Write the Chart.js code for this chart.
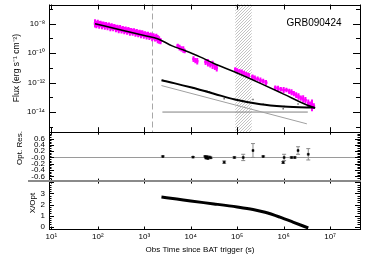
<!DOCTYPE html>
<html><head><meta charset="utf-8">
<script src="https://cdn.jsdelivr.net/npm/chart.js@4.4.1/dist/chart.umd.min.js"></script>
<style>html,body{margin:0;padding:0;background:#fff;}canvas{display:block;}</style>
</head><body>
<canvas id="c" width="374" height="263"></canvas>
<script>
// ---------------- data (log10 values) ----------------
const xrtLogTime = [1.94,1.97,2.00,2.03,2.06,2.09,2.12,2.15,2.18,2.21,2.24,2.27,2.30,2.33,2.36,2.39,2.42,2.45,2.48,2.51,2.54,2.57,2.60,2.63,2.66,2.69,2.72,2.75,2.78,2.81,2.84,2.87,2.90,2.93,2.96,2.99,3.02,3.05,3.08,3.11,3.14,3.17,3.20,3.23,3.26,3.29,3.32,3.35,
  3.72,3.76,3.80,3.84,3.87,4.06,4.10,4.14,4.32,4.37,4.42,4.47,4.52,4.56,4.96,5.00,5.05,5.10,5.15,5.20,5.25,5.33,5.38,5.44,5.50,5.56,5.62,5.82,5.88,5.94,6.00,6.06,6.12,6.17,6.22,6.27,6.32,6.37,6.42,6.47,6.53,6.57,6.61,6.65];
const xrtLogFlux = [-7.98,-8.05,-7.97,-8.08,-8.02,-8.12,-8.06,-8.15,-8.10,-8.20,-8.12,-8.25,-8.19,-8.27,-8.22,-8.33,-8.28,-8.38,-8.31,-8.42,-8.36,-8.47,-8.40,-8.50,-8.44,-8.55,-8.50,-8.58,-8.52,-8.64,-8.57,-8.68,-8.62,-8.72,-8.66,-8.77,-8.72,-8.82,-8.76,-8.86,-8.81,-8.92,-8.87,-8.97,-8.93,-9.05,-9.10,-9.18,
  -9.50,-9.62,-9.70,-9.75,-9.85,-10.40,-10.50,-10.55,-10.60,-10.65,-10.75,-10.80,-10.95,-11.00,-11.10,-11.20,-11.22,-11.30,-11.35,-11.45,-11.50,-11.60,-11.70,-11.75,-11.85,-11.90,-12.00,-12.35,-12.40,-12.45,-12.50,-12.50,-12.60,-12.65,-12.75,-12.85,-12.95,-13.05,-13.10,-13.20,-13.40,-13.50,-13.55,-13.60];
const xrtLogFluxErr = [0.28,0.25,0.24,0.26,0.22,0.26,0.21,0.25,0.22,0.24,0.20,0.25,0.22,0.24,0.21,0.25,0.22,0.26,0.22,0.24,0.21,0.25,0.22,0.24,0.22,0.26,0.22,0.24,0.21,0.25,0.22,0.24,0.22,0.26,0.22,0.24,0.21,0.25,0.22,0.24,0.22,0.26,0.22,0.24,0.26,0.28,0.25,0.22,
  0.15,0.20,0.18,0.22,0.16,0.20,0.18,0.22,0.20,0.25,0.22,0.28,0.20,0.25,0.15,0.18,0.15,0.20,0.16,0.18,0.15,0.15,0.18,0.16,0.20,0.16,0.18,0.15,0.18,0.16,0.20,0.16,0.18,0.20,0.18,0.20,0.22,0.18,0.25,0.22,0.25,0.22,0.40,0.20];
const xrtLogTimeErr = [0.015,0.015,0.015,0.015,0.015,0.015,0.015,0.015,0.015,0.015,0.015,0.015,0.015,0.015,0.015,0.015,0.015,0.015,0.015,0.015,0.015,0.015,0.015,0.015,0.015,0.015,0.015,0.015,0.015,0.015,0.015,0.015,0.015,0.015,0.015,0.015,0.015,0.015,0.015,0.015,0.015,0.015,0.015,0.015,0.015,0.015,0.015,0.015,
  0.02,0.02,0.02,0.02,0.02,0.02,0.02,0.02,0.025,0.025,0.025,0.025,0.025,0.025,0.025,0.025,0.025,0.025,0.025,0.025,0.025,0.03,0.03,0.03,0.03,0.03,0.03,0.03,0.03,0.03,0.03,0.03,0.03,0.03,0.025,0.025,0.025,0.025,0.025,0.025,0.02,0.02,0.02,0.02];

const xrtFitLogTime = [1.94,2.5,3.0,3.3,3.6,3.87,4.2,4.5,4.95,5.5,6.0,6.5,6.68];
const xrtFitLogFlux = [-8.00,-8.42,-8.80,-9.03,-9.50,-9.82,-10.25,-10.70,-11.28,-12.05,-12.78,-13.52,-13.72];

const optFitLogTime = [3.37,3.66,4.0,4.5,4.95,5.5,6.0,6.5,6.67];
const optFitLogFlux = [-11.84,-12.05,-12.32,-12.75,-13.15,-13.47,-13.62,-13.69,-13.70];

const optPowLogTime = [3.37,6.50];
const optPowLogFlux = [-12.20,-14.80];
const hostLogTime = [3.39,6.52];
const hostLogFlux = [-14.00,-14.00];

const optLogTime = [3.40,4.05,4.31,4.33,4.35,4.37,4.40,4.43,4.72,4.94,5.13,5.34,5.56,5.99,6.01,6.17,6.24,6.31,6.53];
const optLogFlux = [-11.83,-12.35,-12.56,-12.60,-12.58,-12.62,-12.62,-12.66,-13.10,-13.14,-13.27,-13.15,-13.47,-13.78,-13.62,-13.65,-13.67,-13.45,-13.59];
const resValue = [0.03,0.01,0.03,-0.02,0.02,-0.03,0.01,-0.01,-0.15,0.00,0.00,0.22,0.03,-0.16,0.00,0.00,0.00,0.22,0.10];
const resErr   = [0.02,0.02,0.02,0.02,0.03,0.02,0.03,0.02,0.04,0.02,0.10,0.22,0.02,0.03,0.10,0.02,0.02,0.12,0.18];

const ratioLogTime = [3.37,3.7,4.0,4.5,5.0,5.34,5.6,5.92,6.2,6.53];
const ratioValue   = [2.68,2.50,2.32,2.06,1.78,1.55,1.30,0.86,0.42,-0.12];

const xTickValues = [1e1,1e2,1e3,1e4,1e5,1e6,1e7];
const xTickLabels = ['10¹','10²','10³','10⁴','10⁵','10⁶','10⁷'];
const fluxTickValues = [1e-14,1e-12,1e-10,1e-8];
const fluxTickLabels = ['10⁻¹⁴','10⁻¹²','10⁻¹⁰','10⁻⁸'];
const fluxDecades = [1e-15,1e-14,1e-13,1e-12,1e-11,1e-10,1e-9,1e-8,1e-7];
const resTickValues = [-0.6,-0.4,-0.2,0,0.2,0.4,0.6];
const resTickLabels = ['-0.6','-0.4','-0.2','-0.0','0.2','0.4','0.6'];
const ratioTickValues = [0,1,2,3];
const ratioTickLabels = ['0','1','2','3'];

const breakTime = 1500;          // dashed vertical line
const gapRange = [9.1e4, 2.05e5]; // hatched band
const grbName = 'GRB090424';
const xTitle = 'Obs Time since BAT trigger (s)';
const fluxTitle = 'Flux (erg s⁻¹ cm⁻²)';
const resTitle = 'Opt. Res.';
const ratioTitle = 'X/Opt';

// ---------------- build datasets ----------------
const P = v => Math.pow(10, v);
const xrtPoints = xrtLogTime.map((t,i) => ({
  x: P(t), y: P(xrtLogFlux[i]),
  yLo: P(xrtLogFlux[i]-xrtLogFluxErr[i]), yHi: P(xrtLogFlux[i]+xrtLogFluxErr[i]),
  xLo: P(t-xrtLogTimeErr[i]), xHi: P(t+xrtLogTimeErr[i])
}));
const curve = (ts, fs) => ts.map((t,i) => ({x: P(t), y: P(fs[i])}));
const optPoints = optLogTime.map((t,i) => ({x: P(t), y: P(optLogFlux[i])}));
const resPoints = optLogTime.map((t,i) => ({x: P(t), y: resValue[i], yLo: resValue[i]-resErr[i], yHi: resValue[i]+resErr[i], cap: true}));
const ratioPoints = ratioLogTime.map((t,i) => ({x: P(t), y: ratioValue[i]}));

const FONT = "'Liberation Sans', Arial, sans-serif";
Chart.defaults.font.family = FONT;
Chart.defaults.font.size = 8;
Chart.defaults.color = '#000';

const errorBarPlugin = {
  id: 'errbars',
  beforeDatasetsDraw(chart) {
    const ctx = chart.ctx;
    chart.data.datasets.forEach(ds => {
      if (!ds.errorBars) return;
      const xs = chart.scales.x, ys = chart.scales[ds.yAxisID];
      ctx.save();
      ctx.strokeStyle = ds.errorBars.color;
      ctx.lineWidth = ds.errorBars.width;
      ds.data.forEach(p => {
        const px = xs.getPixelForValue(p.x), py = ys.getPixelForValue(p.y);
        const y1 = ys.getPixelForValue(p.yLo), y2 = ys.getPixelForValue(p.yHi);
        ctx.beginPath();
        ctx.moveTo(px, y1); ctx.lineTo(px, y2);
        if (p.xLo !== undefined) {
          ctx.moveTo(xs.getPixelForValue(p.xLo), py); ctx.lineTo(xs.getPixelForValue(p.xHi), py);
        }
        if (p.cap) {
          ctx.moveTo(px-2, y1); ctx.lineTo(px+2, y1);
          ctx.moveTo(px-2, y2); ctx.lineTo(px+2, y2);
        }
        ctx.stroke();
      });
      ctx.restore();
    });
  }
};

function hLine(ctx, x1, x2, y) { ctx.moveTo(x1, Math.round(y)+0.5); ctx.lineTo(x2, Math.round(y)+0.5); }
function vLine(ctx, x, y1, y2) { ctx.moveTo(Math.round(x)+0.5, y1); ctx.lineTo(Math.round(x)+0.5, y2); }

const decoPlugin = {
  id: 'deco',
  beforeDatasetsDraw(chart) {
    const ctx = chart.ctx, ca = chart.chartArea, sx = chart.scales.x;
    const sF = chart.scales.yFlux, sR = chart.scales.yRes;
    ctx.save();
    // hatched band
    const pc = document.createElement('canvas'); pc.width = 3; pc.height = 3;
    const pg = pc.getContext('2d');
    pg.strokeStyle = '#b4b4b4'; pg.lineWidth = 0.8;
    pg.beginPath(); pg.moveTo(0,3); pg.lineTo(3,0); pg.moveTo(-1,1); pg.lineTo(1,-1); pg.moveTo(2,4); pg.lineTo(4,2); pg.stroke();
    ctx.fillStyle = ctx.createPattern(pc, 'repeat');
    const hx1 = sx.getPixelForValue(gapRange[0]), hx2 = sx.getPixelForValue(gapRange[1]);
    ctx.fillRect(hx1, sF.top, hx2-hx1, sF.bottom-sF.top);
    // dashed line
    ctx.strokeStyle = '#a8a8a8'; ctx.lineWidth = 1; ctx.setLineDash([6,3]);
    ctx.beginPath(); vLine(ctx, sx.getPixelForValue(breakTime), sF.top, sF.bottom); ctx.stroke();
    ctx.setLineDash([]);
    // residual zero line
    ctx.strokeStyle = '#9a9a9a';
    ctx.beginPath(); hLine(ctx, ca.left, ca.right, sR.getPixelForValue(0)); ctx.stroke();
    ctx.restore();
  },
  afterDatasetsDraw(chart) {
    const ctx = chart.ctx, ca = chart.chartArea, sx = chart.scales.x;
    const sF = chart.scales.yFlux, sR = chart.scales.yRes, sQ = chart.scales.yRat;
    const L = ca.left, R = ca.right;
    ctx.save();
    ctx.strokeStyle = '#000'; ctx.lineWidth = 1;
    ctx.beginPath();
    // panel boxes
    [sF, sR, sQ].forEach(s => {
      hLine(ctx, L, R+1, s.top); hLine(ctx, L, R+1, s.bottom);
      vLine(ctx, L, s.top, s.bottom); vLine(ctx, R, s.top, s.bottom);
    });
    // x ticks on every panel
    const xLen = [[sF,5],[sR,2.5],[sQ,2.5]];
    xLen.forEach(([s,len]) => {
      xTickValues.forEach(v => {
        const px = sx.getPixelForValue(v);
        vLine(ctx, px, s.top, s.top+len);
        vLine(ctx, px, s.bottom-len, s.bottom);
      });
    });
    // flux y ticks
    fluxDecades.forEach(v => {
      const py = sF.getPixelForValue(v);
      if (py < sF.top || py > sF.bottom) return;
      const len = fluxTickValues.includes(v) ? 7 : 4;
      hLine(ctx, L, L+len, py); hLine(ctx, R-len, R, py);
    });
    // residual ticks
    for (let k = -15; k <= 16; k++) {
      const v = k*0.05, py = sR.getPixelForValue(v);
      if (py < sR.top || py > sR.bottom) continue;
      const len = (k % 4 === 0) ? 5 : 2.5;
      hLine(ctx, L, L+len, py); hLine(ctx, R-len, R, py);
    }
    // ratio ticks
    for (let k = -1; k <= 20; k++) {
      const v = k*0.2, py = sQ.getPixelForValue(v);
      if (py < sQ.top || py > sQ.bottom) continue;
      const len = (k % 5 === 0) ? 5 : 2.5;
      hLine(ctx, L, L+len, py); hLine(ctx, R-len, R, py);
    }
    ctx.stroke();
    // gray band between residual and ratio panels
    ctx.strokeStyle = '#8a8a8a'; ctx.lineWidth = 2;
    ctx.beginPath(); ctx.moveTo(28, sQ.top); ctx.lineTo(R+1, sQ.top); ctx.stroke();
    // texts
    ctx.fillStyle = '#000';
    ctx.textAlign = 'center'; ctx.textBaseline = 'middle';
    ctx.font = "10px " + FONT;
    ctx.fillText(grbName, 314, 23.5);
    ctx.font = "8px " + FONT;
    ctx.fillText(xTitle, 200, 250);
    const rot = (txt, x, y) => { ctx.save(); ctx.translate(x, y); ctx.rotate(-Math.PI/2); ctx.fillText(txt, 0, 0); ctx.restore(); };
    ctx.font = "8.5px " + FONT;
    rot(fluxTitle, 17, 68);
    ctx.font = "8px " + FONT;
    rot(resTitle, 20, 148);
    rot(ratioTitle, 33, 203);
    ctx.restore();
  }
};

const noPad = s => { s.paddingTop = 0; s.paddingBottom = 0; s.paddingLeft = 0; s.paddingRight = 0; };
const yCommon = {
  grid: {display: false, drawTicks: false},
  border: {display: false},
  afterFit: s => { s.width = 49; noPad(s); }
};

new Chart(document.getElementById('c'), {
  type: 'scatter',
  data: { datasets: [
    { label: 'X/Opt', data: ratioPoints, yAxisID: 'yRat', showLine: true, borderColor: '#000', borderWidth: 3, pointRadius: 0, cubicInterpolationMode: 'monotone' },
    { label: 'Residuals', data: resPoints, yAxisID: 'yRes', pointStyle: 'rect', pointRadius: 1.4, backgroundColor: '#000', borderColor: '#000', borderWidth: 0.5,
      errorBars: {color: '#8a8a8a', width: 1} },
    { label: 'X-ray fit', data: curve(xrtFitLogTime, xrtFitLogFlux), yAxisID: 'yFlux', showLine: true, borderColor: '#000', borderWidth: 1.5, pointRadius: 0, cubicInterpolationMode: 'monotone' },
    { label: 'Optical fit', data: curve(optFitLogTime, optFitLogFlux), yAxisID: 'yFlux', showLine: true, borderColor: '#000', borderWidth: 2, pointRadius: 0, cubicInterpolationMode: 'monotone' },
    { label: 'Optical data', data: optPoints, yAxisID: 'yFlux', pointStyle: 'rect', pointRadius: 1, backgroundColor: '#666', borderColor: '#666', borderWidth: 0 },
    { label: 'Power law', data: curve(optPowLogTime, optPowLogFlux), yAxisID: 'yFlux', showLine: true, borderColor: '#a0a0a0', borderWidth: 1, pointRadius: 0 },
    { label: 'Host', data: curve(hostLogTime, hostLogFlux), yAxisID: 'yFlux', showLine: true, borderColor: '#808080', borderWidth: 1, pointRadius: 0 },
    { label: 'XRT', data: xrtPoints, yAxisID: 'yFlux', pointStyle: 'rect', pointRadius: 1.8, backgroundColor: '#ff00ff', borderColor: '#ff00ff', borderWidth: 0,
      errorBars: {color: '#ff00ff', width: 2} }
  ]},
  options: {
    responsive: false, animation: false,
    layout: {padding: {top: 4, right: 14, left: 0, bottom: 0}},
    plugins: {legend: {display: false}, tooltip: {enabled: false}},
    scales: {
      x: { type: 'logarithmic', position: 'bottom', min: 8.9, max: 4.4e7,
        grid: {display: false, drawTicks: false}, border: {display: false},
        ticks: {padding: 3, autoSkip: false, maxRotation: 0, callback: (v, i) => xTickLabels[i]},
        afterBuildTicks: s => { s.ticks = xTickValues.map(v => ({value: v})); },
        afterFit: s => { s.height = 34; noPad(s); } },
      yRat: Object.assign({ type: 'linear', position: 'left', stack: 'panels', stackWeight: 48, min: -0.21, max: 4.12,
        ticks: {padding: 4, autoSkip: false, callback: (v, i) => ratioTickLabels[i]},
        afterBuildTicks: s => { s.ticks = ratioTickValues.map(v => ({value: v})); } }, yCommon),
      yRes: Object.assign({ type: 'linear', position: 'left', stack: 'panels', stackWeight: 49, min: -0.75, max: 0.80,
        ticks: {padding: 4, autoSkip: false, callback: (v, i) => resTickLabels[i]},
        afterBuildTicks: s => { s.ticks = resTickValues.map(v => ({value: v})); } }, yCommon),
      yFlux: Object.assign({ type: 'logarithmic', position: 'left', stack: 'panels', stackWeight: 128, min: 4.27e-16, max: 2.04e-7,
        ticks: {padding: 4, autoSkip: false, callback: (v, i) => fluxTickLabels[i]},
        afterBuildTicks: s => { s.ticks = fluxTickValues.map(v => ({value: v})); } }, yCommon)
    }
  },
  plugins: [decoPlugin, errorBarPlugin]
});
</script>
</body></html>
